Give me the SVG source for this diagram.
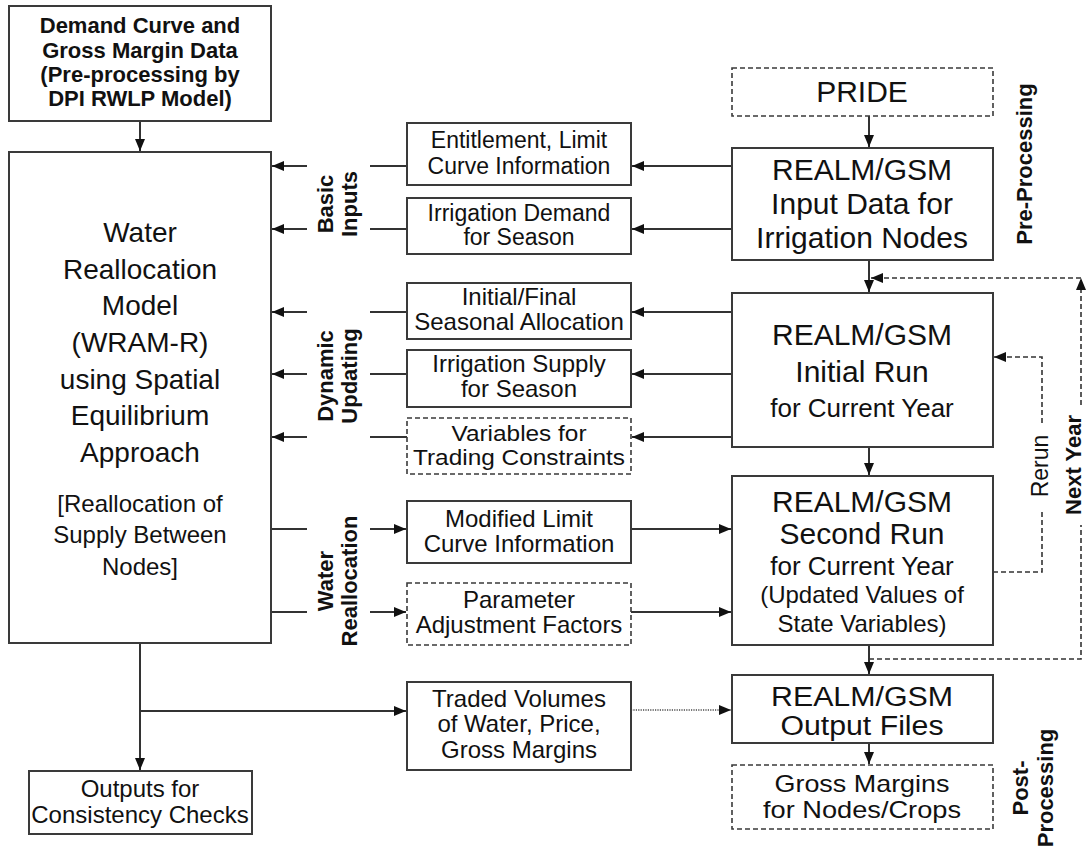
<svg xmlns="http://www.w3.org/2000/svg" width="1087" height="853" viewBox="0 0 1087 853">
<defs>
<style>
.box{fill:#fff;stroke:#3a3a3a;stroke-width:2}
.dbox{fill:#fff;stroke:#3a3a3a;stroke-width:1.6;stroke-dasharray:5 3}
.t{font-family:"Liberation Sans",Arial,sans-serif;fill:#111;text-anchor:middle}
.b{font-weight:bold}
.ln{stroke:#333;stroke-width:2;fill:none}
.dl{stroke:#333;stroke-width:1.6;fill:none;stroke-dasharray:5 3}
.dot{stroke:#777;stroke-width:1.8;fill:none;stroke-dasharray:1.2 1.2}
</style>
<marker id="ah" markerUnits="userSpaceOnUse" markerWidth="13" markerHeight="11" refX="12" refY="5" orient="auto">
<path d="M0,0 L12,5 L0,10 z" fill="#111"/>
</marker>
</defs>
<rect width="1087" height="853" fill="#fff"/>

<g id="connectors">
<path class="ln" d="M140,121 V151" marker-end="url(#ah)"/>
<path class="ln" d="M869,116 V147" marker-end="url(#ah)"/>
<path class="ln" d="M869,260 V292" marker-end="url(#ah)"/>
<path class="ln" d="M869,447 V475" marker-end="url(#ah)"/>
<path class="ln" d="M869,645 V674" marker-end="url(#ah)"/>
<path class="ln" d="M869,743 V764" marker-end="url(#ah)"/>
<path class="ln" d="M732,166 H632" marker-end="url(#ah)"/>
<path class="ln" d="M732,229 H632" marker-end="url(#ah)"/>
<path class="ln" d="M732,312 H632" marker-end="url(#ah)"/>
<path class="ln" d="M732,374 H632" marker-end="url(#ah)"/>
<path class="ln" d="M732,437 H632" marker-end="url(#ah)"/>
<path class="ln" d="M407,166 H370 M407,229 H370 M407,312 H370 M407,374 H370 M407,437 H370"/>
<path class="ln" d="M307,166 H272" marker-end="url(#ah)"/>
<path class="ln" d="M307,229 H272" marker-end="url(#ah)"/>
<path class="ln" d="M307,312 H272" marker-end="url(#ah)"/>
<path class="ln" d="M307,374 H272" marker-end="url(#ah)"/>
<path class="ln" d="M307,437 H272" marker-end="url(#ah)"/>
<path class="ln" d="M271,529 H307 M271,612 H307"/>
<path class="ln" d="M370,529 H406" marker-end="url(#ah)"/>
<path class="ln" d="M370,612 H406" marker-end="url(#ah)"/>
<path class="ln" d="M631,529 H731" marker-end="url(#ah)"/>
<path class="ln" d="M631,612 H731" marker-end="url(#ah)"/>
<path class="ln" d="M140,643 V770" marker-end="url(#ah)"/>
<path class="ln" d="M140,711 H406" marker-end="url(#ah)"/>
<path class="dot" d="M631,710 H731" marker-end="url(#ah)"/>
<path class="dl" d="M993,572 H1042 V510"/>
<path class="dl" d="M1042,423 V357 H994" marker-end="url(#ah)"/>
<path class="dl" d="M869,659 H1081 V525"/>
<path class="dl" d="M1081,405 V278" marker-end="url(#ah)"/>
<path class="dl" d="M1081,278 H871" marker-end="url(#ah)"/>
</g>

<g id="n-demand">
<rect class="box" x="9" y="6" width="262" height="115"/>
<text class="t b" font-size="22"><tspan x="140" y="33">Demand Curve and</tspan><tspan x="140" y="57.5">Gross Margin Data</tspan><tspan x="140" y="82">(Pre-processing by</tspan><tspan x="140" y="106">DPI RWLP Model)</tspan></text>
</g>

<g id="n-wram">
<rect class="box" x="9" y="152" width="262" height="491"/>
<text class="t" font-size="28"><tspan x="140" y="242">Water</tspan><tspan x="140" y="279">Reallocation</tspan><tspan x="140" y="315">Model</tspan><tspan x="140" y="352">(WRAM-R)</tspan><tspan x="140" y="389">using Spatial</tspan><tspan x="140" y="425">Equilibrium</tspan><tspan x="140" y="462">Approach</tspan></text>
<text class="t" font-size="24"><tspan x="140" y="512">[Reallocation of</tspan><tspan x="140" y="543">Supply Between</tspan><tspan x="140" y="575">Nodes]</tspan></text>
</g>

<g id="n-entitlement">
<rect class="box" x="407" y="123" width="224" height="62"/>
<text class="t" font-size="23"><tspan x="519" y="148">Entitlement, Limit</tspan><tspan x="519" y="174">Curve Information</tspan></text>
</g>
<g id="n-irrdemand">
<rect class="box" x="407" y="198" width="224" height="56"/>
<text class="t" font-size="23"><tspan x="519" y="221">Irrigation Demand</tspan><tspan x="519" y="245">for Season</tspan></text>
</g>
<g id="n-allocation">
<rect class="box" x="407" y="283" width="224" height="56"/>
<text class="t" font-size="24"><tspan x="519" y="305">Initial/Final</tspan><tspan x="519" y="330">Seasonal Allocation</tspan></text>
</g>
<g id="n-supply">
<rect class="box" x="407" y="350" width="224" height="57"/>
<text class="t" font-size="24"><tspan x="519" y="372">Irrigation Supply</tspan><tspan x="519" y="397">for Season</tspan></text>
</g>
<g id="n-variables">
<rect class="dbox" x="407" y="418" width="224" height="56"/>
<text class="t" font-size="22"><tspan x="519" y="441" textLength="135" lengthAdjust="spacingAndGlyphs">Variables for</tspan><tspan x="519" y="465" textLength="212" lengthAdjust="spacingAndGlyphs">Trading Constraints</tspan></text>
</g>
<g id="n-modified">
<rect class="box" x="407" y="501" width="224" height="62"/>
<text class="t" font-size="24"><tspan x="519" y="527">Modified Limit</tspan><tspan x="519" y="552">Curve Information</tspan></text>
</g>
<g id="n-parameter">
<rect class="dbox" x="407" y="583" width="224" height="62"/>
<text class="t" font-size="24"><tspan x="519" y="608">Parameter</tspan><tspan x="519" y="633">Adjustment Factors</tspan></text>
</g>
<g id="n-traded">
<rect class="box" x="407" y="682" width="224" height="88"/>
<text class="t" font-size="24"><tspan x="519" y="707">Traded Volumes</tspan><tspan x="519" y="732">of Water, Price,</tspan><tspan x="519" y="758">Gross Margins</tspan></text>
</g>
<g id="n-outputs">
<rect class="box" x="29" y="771" width="223" height="63"/>
<text class="t" font-size="24"><tspan x="140" y="797">Outputs for</tspan><tspan x="140" y="823">Consistency Checks</tspan></text>
</g>

<g id="n-pride">
<rect class="dbox" x="732" y="68" width="261" height="48"/>
<text class="t" x="862" y="102" font-size="30">PRIDE</text>
</g>
<g id="n-input">
<rect class="box" x="732" y="148" width="261" height="112"/>
<text class="t" font-size="30"><tspan x="862" y="180">REALM/GSM</tspan><tspan x="862" y="214">Input Data for</tspan><tspan x="862" y="248">Irrigation Nodes</tspan></text>
</g>
<g id="n-initial">
<rect class="box" x="732" y="293" width="261" height="154"/>
<text class="t" font-size="30"><tspan x="862" y="345">REALM/GSM</tspan><tspan x="862" y="382">Initial Run</tspan></text>
<text class="t" x="862" y="417" font-size="26">for Current Year</text>
</g>
<g id="n-second">
<rect class="box" x="732" y="476" width="261" height="169"/>
<text class="t" font-size="30"><tspan x="862" y="512">REALM/GSM</tspan><tspan x="862" y="544">Second Run</tspan></text>
<text class="t" x="862" y="575" font-size="26">for Current Year</text>
<text class="t" font-size="24"><tspan x="862" y="603">(Updated Values of</tspan><tspan x="862" y="632">State Variables)</tspan></text>
</g>
<g id="n-output">
<rect class="box" x="732" y="675" width="261" height="68"/>
<text class="t" font-size="27"><tspan x="862" y="706" textLength="182" lengthAdjust="spacingAndGlyphs">REALM/GSM</tspan><tspan x="862" y="735" textLength="163" lengthAdjust="spacingAndGlyphs">Output Files</tspan></text>
</g>
<g id="n-gross">
<rect class="dbox" x="732" y="765" width="261" height="64"/>
<text class="t" font-size="24"><tspan x="862" y="792" textLength="175" lengthAdjust="spacingAndGlyphs">Gross Margins</tspan><tspan x="862" y="818" textLength="198" lengthAdjust="spacingAndGlyphs">for Nodes/Crops</tspan></text>
</g>

<g id="labels">
<g transform="translate(0,204) rotate(-90)"><text class="t b" font-size="22"><tspan x="0" y="333">Basic</tspan><tspan x="0" y="357">Inputs</tspan></text></g>
<g transform="translate(0,376) rotate(-90)"><text class="t b" font-size="22"><tspan x="0" y="333">Dynamic</tspan><tspan x="0" y="357">Updating</tspan></text></g>
<g transform="translate(0,581) rotate(-90)"><text class="t b" font-size="22"><tspan x="0" y="333">Water</tspan><tspan x="0" y="357">Reallocation</tspan></text></g>
<g transform="translate(0,164) rotate(-90)"><text class="t b" font-size="22"><tspan x="0" y="1032">Pre-Processing</tspan></text></g>
<g transform="translate(0,788) rotate(-90)"><text class="t b" font-size="22"><tspan x="0" y="1028">Post-</tspan><tspan x="0" y="1053">Processing</tspan></text></g>
<g transform="translate(0,466) rotate(-90)"><text class="t" font-size="23"><tspan x="0" y="1048">Rerun</tspan></text></g>
<g transform="translate(0,465) rotate(-90)"><text class="t b" font-size="22"><tspan x="0" y="1081">Next Year</tspan></text></g>
</g>
</svg>
